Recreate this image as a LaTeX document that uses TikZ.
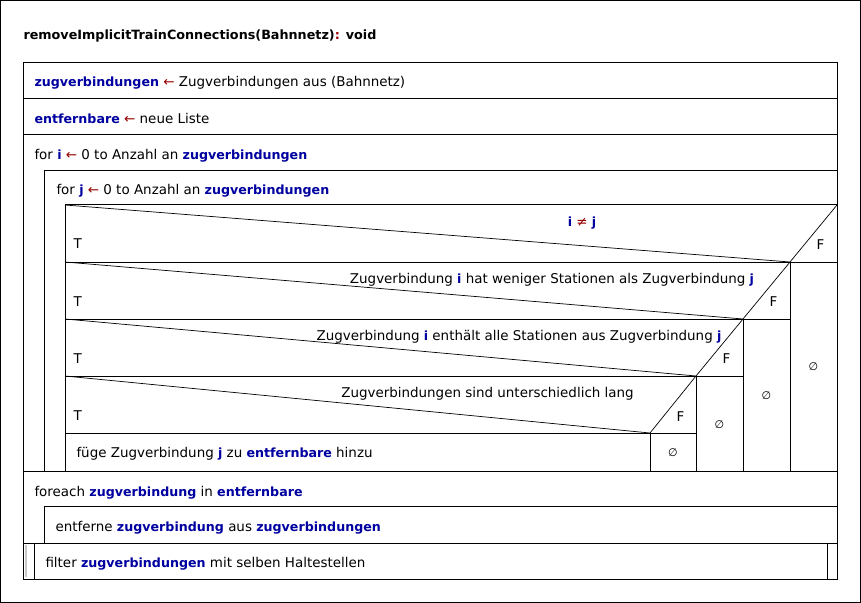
\documentclass[tikz,border=0pt]{standalone}
\usepackage{fontspec}
\setmainfont{DejaVu Sans}
\definecolor{vb}{RGB}{0,0,160}
\definecolor{op}{RGB}{150,0,0}
\definecolor{barg}{RGB}{200,200,200}
\newcommand{\vv}[1]{\textcolor{vb}{\fontsize{12.7}{16}\selectfont\bfseries #1}}
\newcommand{\larr}{\textcolor{op}{←}}
\begin{document}
\begin{tikzpicture}[x=1bp,y=-1bp,line width=1bp,
  txt/.style={inner sep=0pt,anchor=base west,font=\fontsize{13.5}{16}\selectfont},
  ctxt/.style={inner sep=0pt,anchor=base,font=\fontsize{13.5}{16}\selectfont},
  mtxt/.style={inner sep=0pt,anchor=center,font=\fontsize{11}{13}\selectfont},
  diag/.style={line width=0.7bp}]
\useasboundingbox (0,0) rectangle (861,603);
\draw (0.5,0.5) rectangle (860.5,602.5);
% title
\node[txt,font=\fontsize{12.8}{16}\selectfont\bfseries] (title) at (23,39.5) {removeImplicitTrainConnections(Bahnnetz)\textcolor{op}{:} void};
% main box
\draw (23,63) rectangle (837,579);
\draw (23,99) -- (837,99);
\draw (23,135) -- (837,135);
\draw (44,171) -- (837,171);
\draw (44,171) -- (44,471);
\draw (65,205) -- (837,205);
\draw (65,205) -- (65,471);
\draw (65,262) -- (837,262);
\draw (65,319) -- (790,319);
\draw (65,376) -- (743,376);
\draw (65,433) -- (696,433);
\draw (790,262) -- (790,471);
\draw (743,319) -- (743,471);
\draw (696,376) -- (696,471);
\draw (650,433) -- (650,471);
\draw (23,471) -- (837,471);
\draw (44,506) -- (837,506);
\draw (44,506) -- (44,543);
\draw (23,543) -- (837,543);
\draw (34,543) -- (34,579);
\draw (827,543) -- (827,579);
\draw[barg,line width=2bp] (26,545) -- (26,577);
% diagonals
\draw[diag] (65,205) -- (790,262) -- (837,205);
\draw[diag] (65,262) -- (743,319) -- (790,262);
\draw[diag] (65,319) -- (696,376) -- (743,319);
\draw[diag] (65,376) -- (650,433) -- (696,376);
% texts
\node[txt] (r1) at (34,87) {\vv{zugverbindungen} \larr{} Zugverbindungen aus (Bahnnetz)};
\node[txt] (r2) at (34,124) {\vv{entfernbare} \larr{} neue Liste};
\node[txt] (fori) at (34,160) {for \vv{i} \larr{} 0 to Anzahl an \vv{zugverbindungen}};
\node[txt] (forj) at (56,195) {for \vv{j} \larr{} 0 to Anzahl an \vv{zugverbindungen}};
\node[ctxt] (c1) at (582,227) {\vv{i} \textcolor{op}{≠} \vv{j}};
\node[ctxt] (c2) at (552,283) {Zugverbindung \vv{i} hat weniger Stationen als Zugverbindung \vv{j}};
\node[ctxt] (c3) at (519,340) {Zugverbindung \vv{i} enthält alle Stationen aus Zugverbindung \vv{j}};
\node[ctxt] (c4) at (487.5,397) {Zugverbindungen sind unterschiedlich lang};
\node[txt] (t1) at (73,249) {T};
\node[txt] (t2) at (73,306) {T};
\node[txt] (t3) at (73,363) {T};
\node[txt] (t4) at (73,420) {T};
\node[txt] (f1) at (816,250) {F};
\node[txt] (f2) at (769,306.5) {F};
\node[txt] (f3) at (722,363) {F};
\node[txt] (f4) at (676,421) {F};
\node[mtxt] (e1) at (813.5,367) {∅};
\node[mtxt] (e2) at (766.5,396) {∅};
\node[mtxt] (e3) at (719.5,424.5) {∅};
\node[mtxt] (e4) at (673,453) {∅};
\node[txt] (act) at (76,457) {füge Zugverbindung \vv{j} zu \vv{entfernbare} hinzu};
\node[txt] (fe) at (34,496) {foreach \vv{zugverbindung} in \vv{entfernbare}};
\node[txt] (ent) at (55,531) {entferne \vv{zugverbindung} aus \vv{zugverbindungen}};
\node[txt] (fil) at (45,567) {filter \vv{zugverbindungen} mit selben Haltestellen};
\end{tikzpicture}
\end{document}
